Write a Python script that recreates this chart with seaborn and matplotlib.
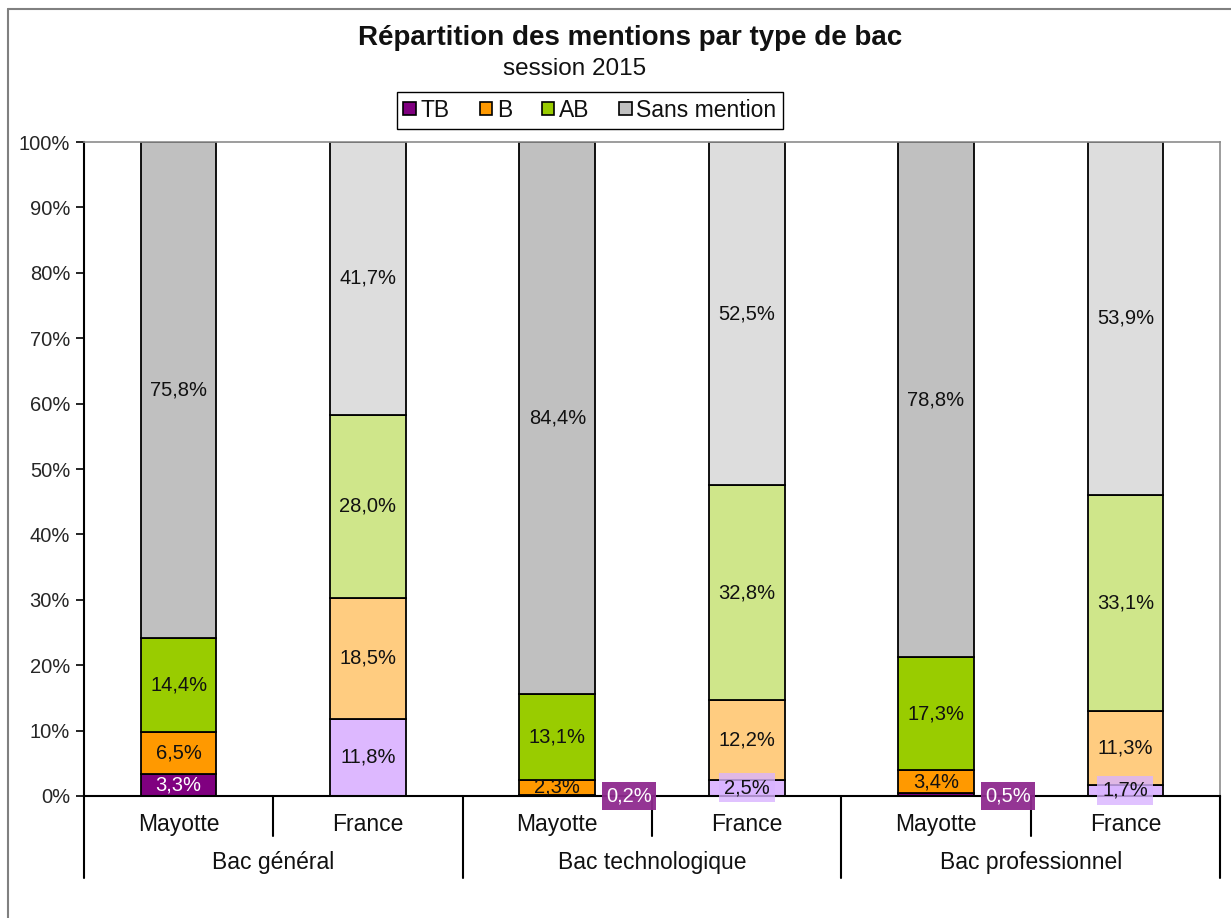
import numpy as np
import matplotlib
matplotlib.use("Agg")
import matplotlib.pyplot as plt
import matplotlib.transforms as mtransforms
import seaborn as sns
from matplotlib.patches import Patch
from matplotlib.lines import Line2D

# --- données (session 2015, en %) ---
bac_types = ["Bac général", "Bac technologique", "Bac professionnel"]
zones = ["Mayotte", "France"]
mentions = ["TB", "B", "AB", "Sans mention"]

tb = [3.3, 11.8, 0.2, 2.5, 0.5, 1.7]
b = [6.5, 18.5, 2.3, 12.2, 3.4, 11.3]
ab = [14.4, 28.0, 13.1, 32.8, 17.3, 33.1]
sans = [75.8, 41.7, 84.4, 52.5, 78.8, 53.9]

colors_mayotte = ["#800080", "#FF9900", "#99CC00", "#C0C0C0"]
colors_france = ["#DDB8FF", "#FFCC80", "#CFE68A", "#DDDDDD"]

sns.set_theme(style="white")
plt.rcParams["font.family"] = ["Liberation Sans", "DejaVu Sans"]
plt.rcParams["text.color"] = "#111111"

slots = [f"{bt}|{z}" for bt in bac_types for z in zones]
layers = [tb, b, ab, sans]

fig = plt.figure(figsize=(12.31, 9.18), dpi=100)
ax = fig.add_axes([0.0682, 0.1329, 0.9229, 0.7124])

bottom = np.zeros(len(slots))
for i, vals in enumerate(layers):
    vals = np.array(vals)
    sns.barplot(x=slots, y=vals, order=slots, bottom=bottom, width=0.4,
                color=colors_mayotte[i], edgecolor="black", linewidth=1.3,
                errorbar=None, ax=ax)
    for k, patch in enumerate(ax.patches[-len(slots):]):
        patch.set_facecolor(colors_mayotte[i] if k % 2 == 0 else colors_france[i])

    # étiquettes de valeurs
    for k, v in enumerate(vals):
        txt = f"{v:.1f}".replace(".", ",") + "%"
        mid = bottom[k] + v / 2
        mayotte = k % 2 == 0
        if i == 0 and mayotte and v < 1:
            ax.text(k + 0.38, 0, txt, ha="center", va="center", fontsize=14.5,
                    color="white", clip_on=False, zorder=5,
                    bbox=dict(boxstyle="square,pad=0.2", fc="#8E2A8E",
                              ec="none", alpha=0.95))
        elif i == 0 and not mayotte and v < 5:
            ax.text(k, mid, txt, ha="center", va="center", fontsize=14.5,
                    zorder=5,
                    bbox=dict(boxstyle="square,pad=0.25", fc="#D9B3FF",
                              ec="none", alpha=0.8))
        elif i == 0 and mayotte:
            ax.text(k, mid, txt, ha="center", va="center", fontsize=14.5,
                    color="white", zorder=5)
        else:
            ax.text(k, mid, txt, ha="center", va="center", fontsize=14.5,
                    zorder=5)
    bottom = bottom + vals

ax.set_xlim(-0.5, len(slots) - 0.5)
ax.set_ylim(0, 100)
ax.set_yticks(np.arange(0, 101, 10))
ax.set_yticklabels([f"{t}%" for t in range(0, 101, 10)], fontsize=14.5)
ax.set_xticks(range(len(slots)))
ax.set_xticklabels([""] * len(slots))
ax.tick_params(axis="y", direction="out", length=6, width=1.2, color="black", left=True, pad=4)
ax.tick_params(axis="x", direction="in", length=4, width=1.2, color="black", bottom=True)
ax.set_xlabel("")
ax.set_ylabel("")

for side in ["left", "bottom"]:
    ax.spines[side].set_color("black")
    ax.spines[side].set_linewidth(1.5)
for side in ["top", "right"]:
    ax.spines[side].set_color("#8C8C8C")
    ax.spines[side].set_linewidth(1.2)

# axe des catégories à deux niveaux
trans = mtransforms.blended_transform_factory(ax.transData, ax.transAxes)
for k, s in enumerate(slots):
    ax.text(k, -0.043, s.split("|")[1], transform=trans, ha="center", va="center", fontsize=16.5)
for j, bt in enumerate(bac_types):
    ax.text(2 * j + 0.5, -0.101, bt, transform=trans, ha="center", va="center", fontsize=16.5)
for xpos in [-0.5, 1.5, 3.5, 5.5]:
    ax.add_line(Line2D([xpos, xpos], [0, -0.1254], transform=trans, color="black",
                       lw=1.5, clip_on=False))
for xpos in [0.5, 2.5, 4.5]:
    ax.add_line(Line2D([xpos, xpos], [0, -0.0612], transform=trans, color="black",
                       lw=1.5, clip_on=False))

# titres
fig.text(0.5118, 0.9586, "Répartition des mentions par type de bac", ha="center",
         va="center", fontsize=20, fontweight="bold")
fig.text(0.467, 0.925, "session 2015", ha="center", va="center", fontsize=17.5)

# légende
handles = [Patch(facecolor=c, edgecolor="black", linewidth=1.2) for c in colors_mayotte]
leg = fig.legend(handles, mentions, loc="center", bbox_to_anchor=(0.4793, 0.880), ncol=4,
                 frameon=True, fancybox=False, edgecolor="black", framealpha=1,
                 fontsize=16.5, handlelength=0.55, handleheight=0.55, handletextpad=0.2,
                 columnspacing=1.3, borderpad=0.3)
leg.get_frame().set_linewidth(1.0)

# cadre extérieur
fig.add_artist(Line2D([8 / 1231, 1], [1 - 9 / 918, 1 - 9 / 918], transform=fig.transFigure,
                      color="#808080", lw=1.5))
fig.add_artist(Line2D([8 / 1231, 8 / 1231], [0, 1 - 9 / 918], transform=fig.transFigure,
                      color="#808080", lw=1.5))

fig.savefig("out.png", dpi=100)
